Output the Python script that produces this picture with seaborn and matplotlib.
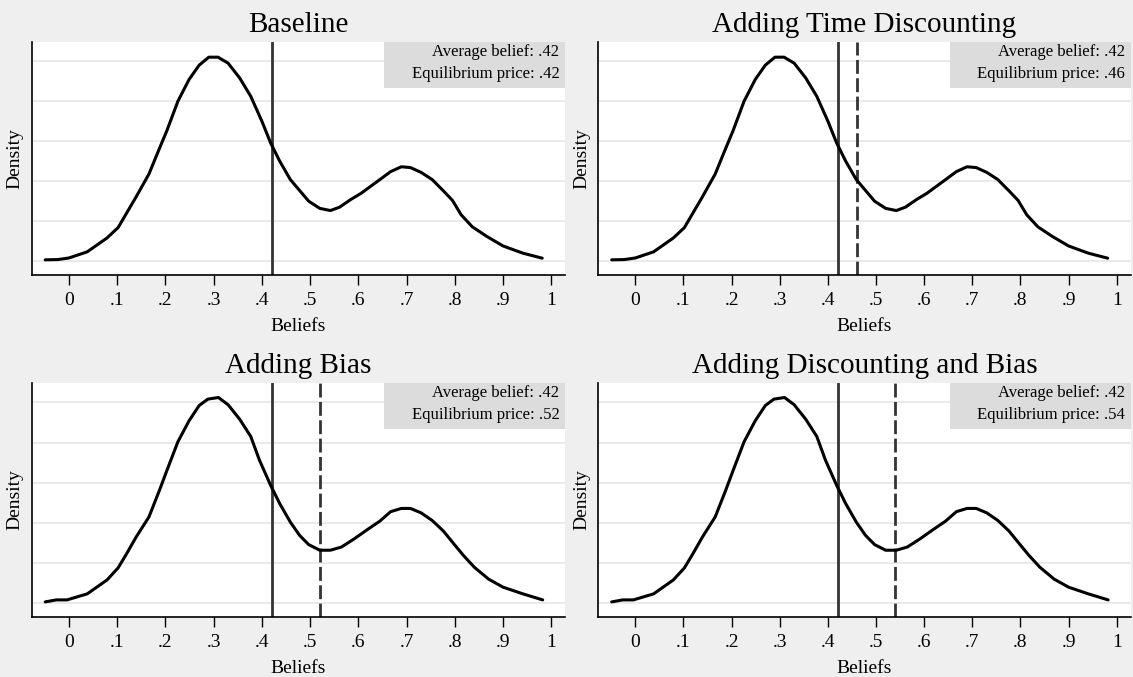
import numpy as np
import pandas as pd
import seaborn as sns
import matplotlib.pyplot as plt
from matplotlib.patches import Rectangle

# kernel density of beliefs
base_x = [-0.049, -0.023, 0.0, 0.038, 0.079, 0.102, 0.139, 0.166, 0.185, 0.203,
          0.226, 0.249, 0.27, 0.29, 0.309, 0.33, 0.354, 0.377, 0.4, 0.418,
          0.437, 0.459, 0.497, 0.52, 0.542, 0.561, 0.584, 0.606, 0.64, 0.667,
          0.689, 0.708, 0.73, 0.753, 0.776, 0.795, 0.813, 0.836, 0.866, 0.9,
          0.941, 0.981]
base_y = [0.017, 0.02, 0.04, 0.117, 0.29, 0.42, 0.8, 1.09, 1.37, 1.63,
          2.0, 2.27, 2.45, 2.55, 2.55, 2.475, 2.29, 2.06, 1.75, 1.48,
          1.25, 1.02, 0.75, 0.66, 0.633, 0.675, 0.77, 0.85, 1.0, 1.12,
          1.18, 1.17, 1.11, 1.02, 0.88, 0.76, 0.58, 0.43, 0.31, 0.19,
          0.1, 0.0375]

bias_x = [-0.049, -0.026, -0.004, 0.038, 0.079, 0.102, 0.12, 0.139, 0.166, 0.188,
          0.203, 0.226, 0.249, 0.27, 0.288, 0.31, 0.33, 0.354, 0.377, 0.395,
          0.418, 0.437, 0.459, 0.478, 0.497, 0.52, 0.542, 0.565, 0.591, 0.617,
          0.644, 0.667, 0.689, 0.708, 0.73, 0.753, 0.776, 0.795, 0.817, 0.84,
          0.87, 0.9, 0.941, 0.982]
bias_y = [0.017, 0.042, 0.042, 0.117, 0.29, 0.44, 0.62, 0.82, 1.075, 1.41,
          1.65, 2.01, 2.27, 2.46, 2.54, 2.56, 2.47, 2.29, 2.075, 1.78,
          1.47, 1.24, 1.01, 0.846, 0.73, 0.66, 0.66, 0.7, 0.8, 0.91,
          1.02, 1.14, 1.18, 1.18, 1.125, 1.03, 0.9, 0.76, 0.6, 0.45,
          0.3, 0.2, 0.117, 0.042]

titles = ["Baseline", "Adding Time Discounting", "Adding Bias", "Adding Discounting and Bias"]
avg_belief = 0.42
eq_price = [0.42, 0.46, 0.52, 0.54]
curves = ["base", "base", "bias", "bias"]

df = pd.concat([
    pd.DataFrame({"Beliefs": base_x, "Density": base_y, "curve": "base"}),
    pd.DataFrame({"Beliefs": bias_x, "Density": bias_y, "curve": "bias"}),
])

sns.set_style("white")
plt.rcParams['font.family'] = ['Liberation Serif', 'DejaVu Serif']
plt.rcParams['text.color'] = 'black'
plt.rcParams['axes.labelcolor'] = 'black'

fig = plt.figure(figsize=(11.33, 6.77), dpi=100)
fig.patch.set_facecolor('#efefef')

positions = [
    [0.028, 0.594, 0.471, 0.344],
    [0.528, 0.594, 0.470, 0.344],
    [0.028, 0.0886, 0.471, 0.3456],
    [0.528, 0.0886, 0.470, 0.3456],
]

def fmt(v):
    s = f"{v:.2f}"
    return s[1:] if s.startswith("0") else s

for i, pos in enumerate(positions):
    ax = fig.add_axes(pos)
    ax.set_facecolor('white')
    for yy in np.arange(0, 2.6, 0.5):
        ax.axhline(yy, color='#e6e6e6', lw=1.2, zorder=0)
    sub = df[df["curve"] == curves[i]]
    sns.lineplot(data=sub, x="Beliefs", y="Density", ax=ax, color='black', lw=2.2,
                 estimator=None, sort=False, zorder=3)
    ax.axvline(avg_belief, color='#333333', lw=2.0, zorder=2)
    if eq_price[i] != avg_belief:
        ax.axvline(eq_price[i], color='#333333', lw=2.0, ls=(0, (5, 1.6)), zorder=2)

    ax.set_xlim(-0.077, 1.029)
    ax.set_ylim(-0.171, 2.74)
    ticks = np.round(np.arange(0, 1.01, 0.1), 1)
    ax.set_xticks(ticks)
    ax.set_xticklabels(["0"] + [f".{k}" for k in range(1, 10)] + ["1"])
    ax.set_yticks([])
    ax.tick_params(axis='x', direction='out', length=7, width=1, colors='black',
                   labelsize=14, pad=5, bottom=True)
    for s in ['top', 'right']:
        ax.spines[s].set_visible(False)
    for s in ['left', 'bottom']:
        ax.spines[s].set_color('black')
        ax.spines[s].set_linewidth(1.2)
    ax.set_xlabel("Beliefs", fontsize=14, labelpad=7)
    ax.set_ylabel("Density", fontsize=14, labelpad=6)
    ax.set_title(titles[i], fontsize=21, pad=7, color='black')

    ax.add_patch(Rectangle((0.661, 0.803), 0.339, 0.197, transform=ax.transAxes,
                           facecolor='#dcdcdc', edgecolor='none', zorder=4))
    ax.text(0.989, 0.957, f"Average belief: {fmt(avg_belief)}", transform=ax.transAxes,
            ha='right', va='center', fontsize=12, zorder=5)
    ax.text(0.989, 0.863, f"Equilibrium price: {fmt(eq_price[i])}", transform=ax.transAxes,
            ha='right', va='center', fontsize=12, zorder=5)

fig.savefig("out.png", dpi=100, facecolor=fig.get_facecolor())
